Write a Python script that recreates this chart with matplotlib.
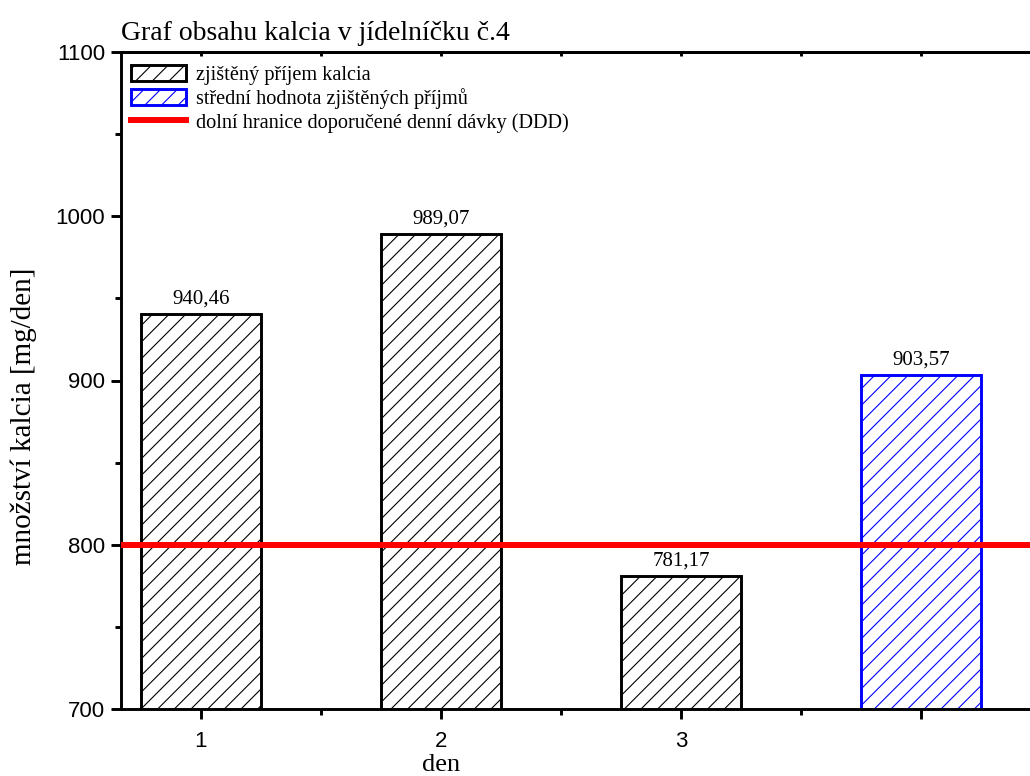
import matplotlib
matplotlib.use("Agg")
import matplotlib.pyplot as plt
from matplotlib.patches import Patch
from matplotlib.lines import Line2D
from matplotlib.ticker import MultipleLocator

days = [1, 2, 3]
day_values = [940.46, 989.07, 781.17]
mean_pos = [4]
mean_values = [903.57]
value_labels = ["940,46", "989,07", "781,17"]
mean_label = ["903,57"]
ddd_limit = 800
xtick_pos = [1, 2, 3, 4]
xtick_labels = ["1", "2", "3", ""]
ytick_pos = [700, 800, 900, 1000, 1100]

serif = "Liberation Serif"
sans = "Liberation Sans"

plt.rcParams['hatch.linewidth'] = 0.8

fig = plt.figure(figsize=(10.30, 7.76), dpi=100)
ax = fig.add_axes([121/1030, 1-709/776, (1041-121)/1030, (709-52)/776])

bw = 0.5
lw = 2.1
ax.bar(days, day_values, width=bw, facecolor="white", edgecolor="black",
       hatch="//", linewidth=lw, zorder=2)
ax.bar(mean_pos, mean_values, width=bw, facecolor="white", edgecolor="#0000ff",
       hatch="//", linewidth=lw, zorder=2)
ax.axhline(ddd_limit, color="#ff0000", linewidth=4.3, zorder=3)

for x, v, s in zip(days, day_values, value_labels):
    ax.annotate(s, (x, v), xytext=(0, 4), textcoords="offset points",
                ha="center", va="bottom", fontsize=15, family=serif)
for x, v, s in zip(mean_pos, mean_values, mean_label):
    ax.annotate(s, (x, v), xytext=(0, 4), textcoords="offset points",
                ha="center", va="bottom", fontsize=15, family=serif)

ax.set_xlim(0.6667, 4.5)
ax.set_ylim(700, 1100)
ax.set_xticks(xtick_pos)
ax.set_xticklabels(xtick_labels, family=sans, fontsize=16)
ax.xaxis.set_minor_locator(MultipleLocator(0.5))
ax.set_yticks(ytick_pos)
ax.set_yticklabels([str(t) for t in ytick_pos], family=sans, fontsize=16)
ax.yaxis.set_minor_locator(MultipleLocator(50))
ax.tick_params(which="major", direction="out", length=7.5, width=lw)
ax.tick_params(which="minor", direction="out", length=4.3, width=lw)
ax.tick_params(axis="x", pad=8)
ax.tick_params(axis="y", pad=4)

for side in ["left", "bottom", "top"]:
    ax.spines[side].set_linewidth(lw)
ax.spines["right"].set_visible(False)

top = ax.secondary_xaxis("top")
top.set_xticks(xtick_pos)
top.xaxis.set_minor_locator(MultipleLocator(0.5))
top.tick_params(which="both", direction="in", length=3, width=lw, labeltop=False)
top.spines["top"].set_linewidth(lw)

ax.set_xlabel("den", family=serif, fontsize=19)
ax.xaxis.set_label_coords((441-121)/920, (709-754)/657)
ax.set_ylabel("množství kalcia [mg/den]", family=serif, fontsize=21)
ax.yaxis.set_label_coords((37-121)/920, (709-416)/657)
fig.text(121/1030, 1-33/776, "Graf obsahu kalcia v jídelníčku č.4", family=serif,
         fontsize=20, ha="left", va="center")

handles = [Patch(facecolor="white", edgecolor="black", hatch="//", linewidth=lw),
           Patch(facecolor="white", edgecolor="#0000ff", hatch="//", linewidth=lw),
           Line2D([0], [0], color="#ff0000", linewidth=4.3)]
labels = ["zjištěný příjem kalcia", "střední hodnota zjištěných příjmů",
          "dolní hranice doporučené denní dávky (DDD)"]
ax.legend(handles, labels, loc="upper left", bbox_to_anchor=(10/920, 1-13/657),
          frameon=False, prop={"family": serif, "size": 14.6},
          handlelength=2.7, handleheight=0.85, labelspacing=0.16,
          handletextpad=0.5, borderaxespad=0, borderpad=0)

fig.savefig("out.png", dpi=100)
